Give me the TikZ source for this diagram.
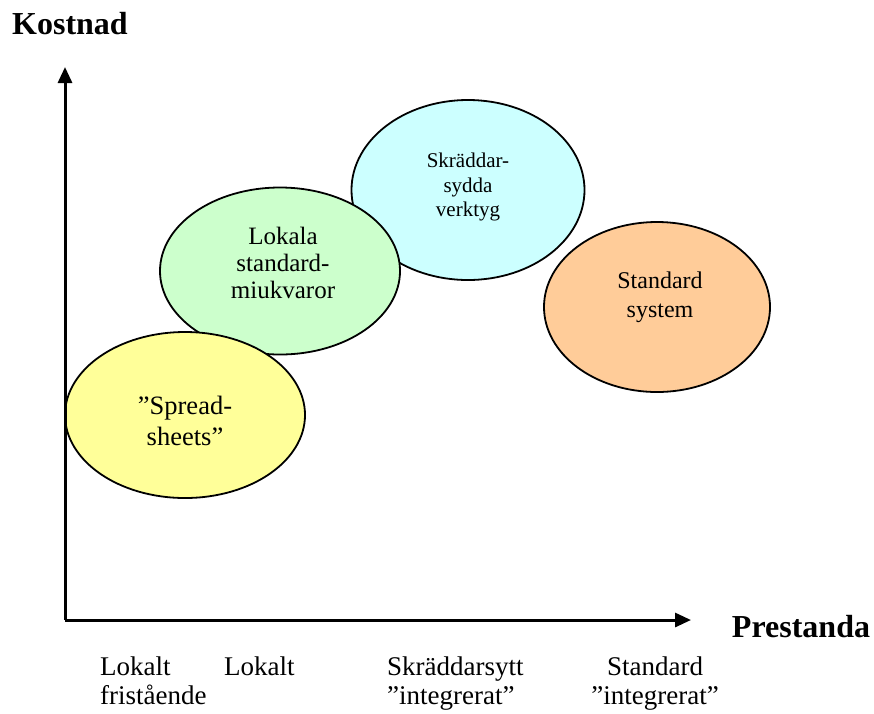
\documentclass[tikz,border=0pt]{standalone}
\usepackage{fontspec}
\setmainfont{Liberation Serif}
\usepackage{xcolor}
\usetikzlibrary{shapes.geometric,arrows.meta}
\definecolor{sheetfill}{HTML}{FFFF99}
\definecolor{localfill}{HTML}{CCFFCC}
\definecolor{customfill}{HTML}{CCFFFF}
\definecolor{stdfill}{HTML}{FFCC99}
\tikzset{
  axis/.style={draw=black, line width=3pt, -{Triangle[length=16pt,width=14pt]}},
  oval/.style={ellipse, draw=black, line width=1.8pt, inner sep=0pt},
  ovaltext/.style={align=center, inner sep=0pt},
  axlab/.style={font=\fontsize{32}{36}\selectfont\bfseries},
  ticklab/.style={font=\fontsize{27}{29}\selectfont, align=left, anchor=north west, inner sep=0pt},
}

\begin{document}
\begin{tikzpicture}[x=1pt,y=-1pt]
  \useasboundingbox (0,0) rectangle (874,713);

  % ovals, back to front
  \node[oval, fill=customfill, minimum width=233pt, minimum height=180pt] (custom) at (468,190) {};
  \node[oval, fill=localfill, minimum width=240pt, minimum height=167pt] (local) at (280,271) {};
  \node[oval, fill=sheetfill, minimum width=240pt, minimum height=166pt] (sheet) at (185,415) {};
  \node[oval, fill=stdfill, minimum width=226pt, minimum height=170pt] (std) at (657,307) {};

  \node[ovaltext, font=\fontsize{21}{24.5}\selectfont] (tcustom) at (468,187) {Skräddar-\\sydda\\verktyg};
  \node[ovaltext, font=\fontsize{25}{27}\selectfont] (tlocal) at (283,263) {Lokala\\standard-\\miukvaror};
  \node[ovaltext, font=\fontsize{26.5}{31}\selectfont] (tsheet) at (185,421) {”Spread-\\sheets”};
  \node[ovaltext, font=\fontsize{24}{29}\selectfont] (tstd) at (660,297) {Standard\\system};

  % axes
  \coordinate (O) at (65,620);
  \coordinate (ytip) at (65,67);
  \coordinate (xtip) at (691,620);
  \draw[axis] (O) -- (ytip);
  \draw[axis] (O) -- (xtip);

  \node[axlab] (kost) at (70,24) {Kostnad};
  \node[axlab] (prest) at (801,627) {Prestanda};

  \node[ticklab] (l1) at (100,657) {Lokalt\\fristående};
  \node[ticklab] (l2) at (224,657) {Lokalt};
  \node[ticklab] (l3) at (387,657) {Skräddarsytt\\\hspace*{0pt}”integrerat”};
  \node[ticklab, align=center, anchor=north] (l4) at (655,657) {Standard\\”integrerat”};
\end{tikzpicture}
\end{document}
